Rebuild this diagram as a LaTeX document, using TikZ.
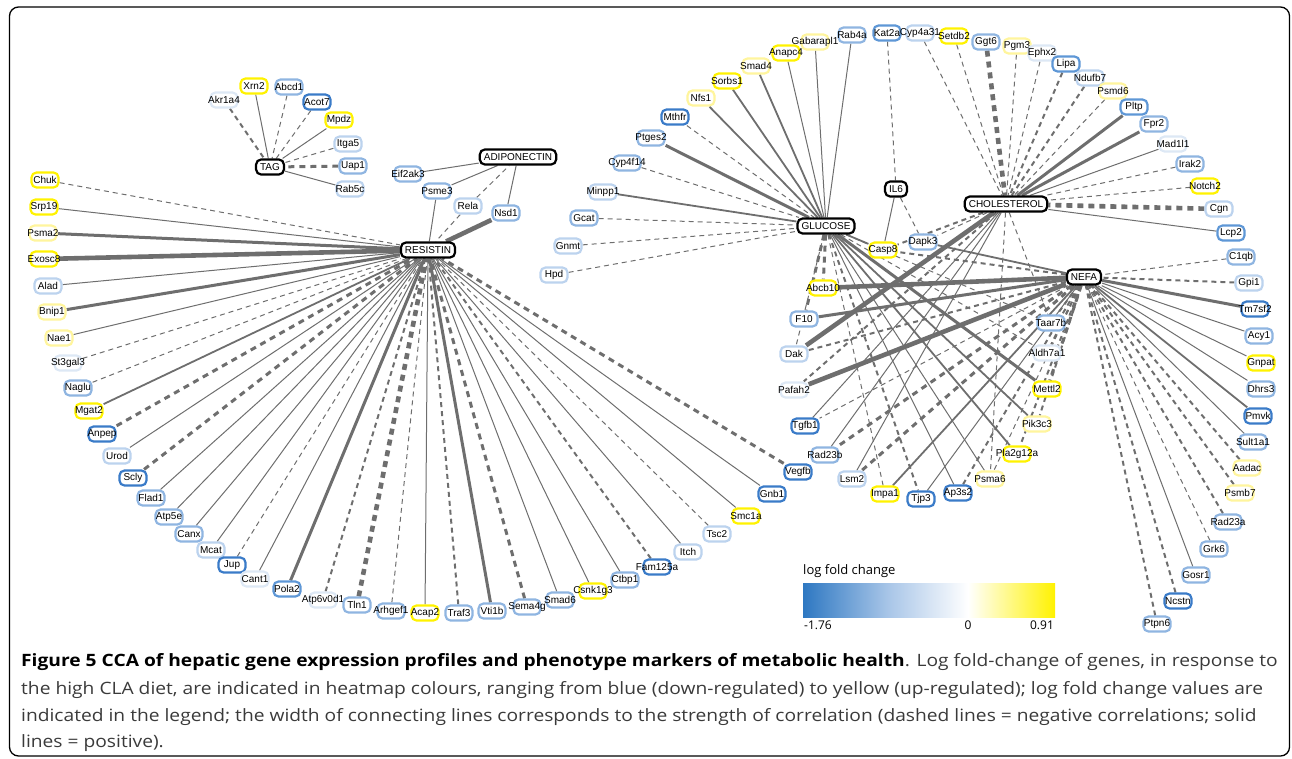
\documentclass[tikz,border=0pt]{standalone}
\usepackage{fontspec}
\newfontfamily\gfont{Liberation Sans}
\newfontfamily\capfont[FakeStretch=1.13]{Open Sans}
\newfontfamily\legfont{Open Sans}
\usetikzlibrary{calc}
\definecolor{yel}{HTML}{FFF200}
\definecolor{lyel}{HTML}{FFF59D}
\definecolor{vlb}{HTML}{DDE8F5}
\definecolor{lb}{HTML}{BCD3EE}
\definecolor{mb}{HTML}{8FB5E1}
\definecolor{bmd}{HTML}{5E97D6}
\definecolor{db}{HTML}{3A7BC8}
\definecolor{ecol}{HTML}{6E6E6E}
\definecolor{lgblue}{HTML}{2E78C2}
\definecolor{lgmid}{HTML}{A9C6E8}
\definecolor{capgray}{HTML}{3A3A3A}
\pgfdeclarehorizontalshading{lfc}{100bp}{color(0bp)=(lgblue); color(25bp)=(lgblue); color(42bp)=(lgmid); color(57.75bp)=(white); color(75bp)=(yel); color(100bp)=(yel)}
\pgfdeclarelayer{bg}
\pgfsetlayers{bg,main}
\newcommand\genebox[4]{\node[gbox,draw=#4] (#1) at (#2,#3) {}; \node[gtxt] at (#1.center) {#1};}
\tikzset{
  gbox/.style={rectangle, rounded corners=5pt, fill=white, line width=2.2pt, minimum width=27pt, minimum height=15pt, inner sep=0pt},
  gtxt/.style={inner sep=0pt, font=\gfont\fontsize{10}{12}\selectfont, text=black},
  hub/.style={rectangle, rounded corners=5pt, fill=white, draw=black, line width=2.2pt, minimum height=15pt, inner xsep=4pt, inner ysep=0pt, font=\gfont\fontsize{10}{12}\selectfont},
  e1/.style={draw=ecol, line width=1pt},
  e2/.style={draw=ecol, line width=1.8pt},
  e3/.style={draw=ecol, line width=3pt},
  e4/.style={draw=ecol, line width=4.6pt},
  d1/.style={draw=ecol, line width=1pt, dash pattern=on 5pt off 4pt},
  d2/.style={draw=ecol, line width=2pt, dash pattern=on 5pt off 4pt},
  d3/.style={draw=ecol, line width=3pt, dash pattern=on 6pt off 5pt},
  d4/.style={draw=ecol, line width=4.6pt, dash pattern=on 6pt off 5pt},
  captxt/.style={inner sep=0pt, anchor=base west, font=\capfont\fontsize{17}{20}\selectfont, text=capgray},
  legt/.style={inner sep=0pt, font=\legfont\fontsize{12}{14}\selectfont, text=black}
}
\begin{document}
\begin{tikzpicture}[x=1pt,y=-1pt]
\useasboundingbox (0,0) rectangle (1292,758);
\draw[line width=1.3pt, rounded corners=9pt] (9.5,7) rectangle (1289.5,756);

% hubs
\node[hub] (TAG) at (270,167) {TAG};
\node[hub] (ADIPONECTIN) at (518,157) {ADIPONECTIN};
\node[hub] (RESISTIN) at (428,250) {RESISTIN};
\node[hub] (GLUCOSE) at (826,226) {GLUCOSE};
\node[hub] (IL6) at (896,189) {IL6};
\node[hub] (CHOLESTEROL) at (1006,204) {CHOLESTEROL};
\node[hub] (NEFA) at (1084,277) {NEFA};

% TAG group
\genebox{Akr1a4}{224}{100}{vlb}
\genebox{Xrn2}{254}{86}{yel}
\genebox{Abcd1}{289}{87}{mb}
\genebox{Acot7}{317}{102}{db}
\genebox{Mpdz}{339}{120}{yel}
\genebox{Itga5}{348}{144}{lb}
\genebox{Uap1}{353}{166}{mb}
\genebox{Rab5c}{350}{189}{lb}
% adiponectin group
\genebox{Eif2ak3}{408}{174}{mb}
\genebox{Psme3}{437}{191}{mb}
\genebox{Rela}{468}{206}{lb}
\genebox{Nsd1}{506}{213}{mb}
% resistin fan
\genebox{Chuk}{45}{180}{yel}
\genebox{Srp19}{44}{207}{yel}
\genebox{Psma2}{43}{233}{lyel}
\genebox{Exosc8}{44}{259}{yel}
\genebox{Alad}{48}{286}{lb}
\genebox{Bnip1}{52}{312}{lyel}
\genebox{Nae1}{59}{338}{lyel}
\genebox{St3gal3}{68}{363}{vlb}
\genebox{Naglu}{78}{388}{mb}
\genebox{Mgat2}{89}{411}{yel}
\genebox{Anpep}{102}{434}{db}
\genebox{Urod}{117}{456}{lb}
\genebox{Scly}{133}{478}{db}
\genebox{Flad1}{151}{498}{mb}
\genebox{Atp5e}{169}{517}{mb}
\genebox{Canx}{189}{534}{mb}
\genebox{Mcat}{211}{550}{lb}
\genebox{Jup}{232}{565}{db}
\genebox{Cant1}{255}{579}{vlb}
\genebox{Pola2}{287}{589}{bmd}
\genebox{Atp6v0d1}{323}{600}{vlb}
\genebox{Tln1}{357}{605}{mb}
\genebox{Arhgef1}{391}{611}{mb}
\genebox{Acap2}{425}{613}{yel}
\genebox{Traf3}{459}{613}{mb}
\genebox{Vti1b}{492}{611}{mb}
\genebox{Sema4g}{527}{607}{mb}
\genebox{Smad6}{560}{600}{mb}
\genebox{Csnk1g3}{593}{591}{yel}
\genebox{Ctbp1}{625}{580}{mb}
\genebox{Fam125a}{657}{567}{db}
\genebox{Itch}{688}{552}{lb}
\genebox{Tsc2}{717}{534}{lb}
\genebox{Smc1a}{746}{516}{yel}
\genebox{Gnb1}{772}{494}{db}
\genebox{Vegfb}{798}{472}{db}
% glucose fan
\genebox{Hpd}{554}{275}{lb}
\genebox{Gnmt}{568}{246}{lb}
\genebox{Gcat}{584}{218}{mb}
\genebox{Minpp1}{603}{192}{lb}
\genebox{Cyp4f14}{627}{163}{mb}
\genebox{Ptges2}{651}{138}{mb}
\genebox{Mthfr}{675}{117}{db}
\genebox{Nfs1}{701}{98}{lyel}
\genebox{Sorbs1}{727}{81}{yel}
\genebox{Smad4}{756}{66}{lyel}
\genebox{Anapc4}{786}{53}{yel}
\genebox{Gabarapl1}{815}{42}{lyel}
\genebox{Rab4a}{852}{35}{mb}
% IL6 / top
\genebox{Kat2a}{887}{33}{bmd}
\genebox{Cyp4a31}{920}{33}{lb}
\genebox{Setdb2}{954}{36}{yel}
% cholesterol fan
\genebox{Ggt6}{986}{42}{mb}
\genebox{Pgm3}{1017}{46}{lyel}
\genebox{Ephx2}{1042}{53}{vlb}
\genebox{Lipa}{1066}{64}{bmd}
\genebox{Ndufb7}{1090}{78}{lb}
\genebox{Psmd6}{1113}{91}{lyel}
\genebox{Pltp}{1134}{107}{bmd}
\genebox{Fpr2}{1154}{124}{mb}
\genebox{Mad1l1}{1173}{144}{vlb}
\genebox{Irak2}{1190}{164}{mb}
\genebox{Notch2}{1205}{186}{yel}
\genebox{Cgn}{1219}{209}{lb}
\genebox{Lcp2}{1231}{233}{bmd}
% nefa fan
\genebox{C1qb}{1241}{257}{mb}
\genebox{Gpi1}{1249}{283}{lb}
\genebox{Tm7sf2}{1255}{309}{db}
\genebox{Acy1}{1259}{336}{mb}
\genebox{Gnpat}{1261}{363}{yel}
\genebox{Dhrs3}{1261}{389}{mb}
\genebox{Pmvk}{1258}{416}{db}
\genebox{Sult1a1}{1253}{442}{mb}
\genebox{Aadac}{1247}{468}{lyel}
\genebox{Psmb7}{1240}{493}{lyel}
\genebox{Rad23a}{1228}{522}{mb}
\genebox{Grk6}{1214}{549}{mb}
\genebox{Gosr1}{1196}{575}{mb}
\genebox{Ncstn}{1178}{601}{db}
\genebox{Ptpn6}{1157}{624}{mb}
% central
\genebox{Casp8}{883}{250}{yel}
\genebox{Dapk3}{923}{242}{mb}
\genebox{Abcb10}{823}{288}{yel}
\genebox{F10}{804}{319}{mb}
\genebox{Dak}{794}{354}{lb}
\genebox{Pafah2}{794}{390}{vlb}
\genebox{Tgfb1}{805}{426}{db}
\genebox{Rad23b}{825}{455}{mb}
\genebox{Lsm2}{852}{479}{lb}
\genebox{Impa1}{885}{494}{yel}
\genebox{Tjp3}{921}{499}{db}
\genebox{Ap3s2}{958}{493}{db}
\genebox{Psma6}{990}{479}{lyel}
\genebox{Pla2g12a}{1017}{454}{yel}
\genebox{Pik3c3}{1037}{424}{lyel}
\genebox{Mettl2}{1047}{389}{yel}
\genebox{Aldh7a1}{1047}{353}{vlb}
\genebox{Taar7b}{1051}{323}{mb}

\begin{pgfonlayer}{bg}
% TAG
\draw[d2] (Akr1a4) -- (TAG);
\draw[e1] (Xrn2) -- (TAG);
\draw[d1] (Abcd1) -- (TAG);
\draw[d1] (Acot7) -- (TAG);
\draw[e1] (Mpdz) -- (TAG);
\draw[d1] (Itga5) -- (TAG);
\draw[d3] (Uap1) -- (TAG);
\draw[e1] (Rab5c) -- (TAG);
% ADIPONECTIN
\draw[e1] (Eif2ak3) -- (ADIPONECTIN);
\draw[e1] (Psme3) -- (ADIPONECTIN);
\draw[d1] (Rela) -- (ADIPONECTIN);
\draw[e1] (Nsd1) -- (ADIPONECTIN);
% RESISTIN
\draw[e1] (Psme3) -- (RESISTIN);
\draw[d1] (Rela) -- (RESISTIN);
\draw[e4] (Nsd1) -- (RESISTIN);
\draw[d1] (Chuk) -- (RESISTIN);
\draw[e1] (Srp19) -- (RESISTIN);
\draw[e3] (Psma2) -- (RESISTIN);
\draw[e4] (Exosc8) -- (RESISTIN);
\draw[e1] (Alad) -- (RESISTIN);
\draw[e3] (Bnip1) -- (RESISTIN);
\draw[e1] (Nae1) -- (RESISTIN);
\draw[d1] (St3gal3) -- (RESISTIN);
\draw[d1] (Naglu) -- (RESISTIN);
\draw[e2] (Mgat2) -- (RESISTIN);
\draw[d3] (Anpep) -- (RESISTIN);
\draw[e1] (Urod) -- (RESISTIN);
\draw[d3] (Scly) -- (RESISTIN);
\draw[e1] (Flad1) -- (RESISTIN);
\draw[e1] (Atp5e) -- (RESISTIN);
\draw[e1] (Canx) -- (RESISTIN);
\draw[e1] (Mcat) -- (RESISTIN);
\draw[d1] (Jup) -- (RESISTIN);
\draw[e1] (Cant1) -- (RESISTIN);
\draw[e3] (Pola2) -- (RESISTIN);
\draw[d2] (Atp6v0d1) -- (RESISTIN);
\draw[d4] (Tln1) -- (RESISTIN);
\draw[d1] (Arhgef1) -- (RESISTIN);
\draw[e1] (Acap2) -- (RESISTIN);
\draw[d2] (Traf3) -- (RESISTIN);
\draw[e3] (Vti1b) -- (RESISTIN);
\draw[d3] (Sema4g) -- (RESISTIN);
\draw[e1] (Smad6) -- (RESISTIN);
\draw[e1] (Csnk1g3) -- (RESISTIN);
\draw[e1] (Ctbp1) -- (RESISTIN);
\draw[d2] (Fam125a) -- (RESISTIN);
\draw[e1] (Itch) -- (RESISTIN);
\draw[d1] (Tsc2) -- (RESISTIN);
\draw[e1] (Smc1a) -- (RESISTIN);
\draw[e1] (Gnb1) -- (RESISTIN);
\draw[d3] (Vegfb) -- (RESISTIN);
% GLUCOSE fan
\draw[d1] (Hpd) -- (GLUCOSE);
\draw[d1] (Gnmt) -- (GLUCOSE);
\draw[d1] (Gcat) -- (GLUCOSE);
\draw[e2] (Minpp1) -- (GLUCOSE);
\draw[d1] (Cyp4f14) -- (GLUCOSE);
\draw[e3] (Ptges2) -- (GLUCOSE);
\draw[d1] (Mthfr) -- (GLUCOSE);
\draw[e2] (Nfs1) -- (GLUCOSE);
\draw[e2] (Sorbs1) -- (GLUCOSE);
\draw[e2] (Smad4) -- (GLUCOSE);
\draw[e1] (Anapc4) -- (GLUCOSE);
\draw[e1] (Gabarapl1) -- (GLUCOSE);
\draw[e1] (Rab4a) -- (GLUCOSE);
% IL6
\draw[d1] (Kat2a) -- (IL6);
\draw[e1] (IL6) -- (Casp8);
\draw[d1] (IL6) -- (Dapk3);
% CHOLESTEROL fan
\draw[d1] (Cyp4a31) -- (CHOLESTEROL);
\draw[d1] (Setdb2) -- (CHOLESTEROL);
\draw[d4] (Ggt6) -- (CHOLESTEROL);
\draw[d1] (Pgm3) -- (CHOLESTEROL);
\draw[d1] (Ephx2) -- (CHOLESTEROL);
\draw[d2] (Lipa) -- (CHOLESTEROL);
\draw[d2] (Ndufb7) -- (CHOLESTEROL);
\draw[d1] (Psmd6) -- (CHOLESTEROL);
\draw[e3] (Pltp) -- (CHOLESTEROL);
\draw[e3] (Fpr2) -- (CHOLESTEROL);
\draw[e1] (Mad1l1) -- (CHOLESTEROL);
\draw[d1] (Irak2) -- (CHOLESTEROL);
\draw[d1] (Notch2) -- (CHOLESTEROL);
\draw[d4] (Cgn) -- (CHOLESTEROL);
\draw[e1] (Lcp2) -- (CHOLESTEROL);
% NEFA fan
\draw[d1] (C1qb) -- (NEFA);
\draw[d2] (Gpi1) -- (NEFA);
\draw[e3] (Tm7sf2) -- (NEFA);
\draw[e1] (Acy1) -- (NEFA);
\draw[e1] (Gnpat) -- (NEFA);
\draw[e1] (Dhrs3) -- (NEFA);
\draw[e2] (Pmvk) -- (NEFA);
\draw[e1] (Sult1a1) -- (NEFA);
\draw[d2] (Aadac) -- (NEFA);
\draw[d2] (Psmb7) -- (NEFA);
\draw[d2] (Rad23a) -- (NEFA);
\draw[d1] (Grk6) -- (NEFA);
\draw[e1] (Gosr1) -- (NEFA);
\draw[d2] (Ncstn) -- (NEFA);
\draw[d2] (Ptpn6) -- (NEFA);
% central: GLUCOSE
\draw[e2] (GLUCOSE) -- (Casp8);
\draw[d3] (GLUCOSE) -- (Abcb10);
\draw[d3] (GLUCOSE) -- (F10);
\draw[d1] (GLUCOSE) -- (Dak);
\draw[e3] (GLUCOSE) -- (Mettl2);
\draw[e2] (GLUCOSE) -- (Pik3c3);
\draw[e2] (GLUCOSE) -- (Pla2g12a);
\draw[e1] (GLUCOSE) -- (Psma6);
\draw[e1] (GLUCOSE) -- (Ap3s2);
\draw[d2] (GLUCOSE) -- (Tjp3);
\draw[d1] (GLUCOSE) -- (Impa1);
\draw[d1] (GLUCOSE) -- (Taar7b);
\draw[d1] (GLUCOSE) -- (Aldh7a1);
% central: CHOLESTEROL
\draw[d2] (CHOLESTEROL) -- (Casp8);
\draw[d1] (CHOLESTEROL) -- (Dapk3);
\draw[e4] (CHOLESTEROL) -- (Dak);
\draw[d2] (CHOLESTEROL) -- (Pafah2);
\draw[e1] (CHOLESTEROL) -- (Tgfb1);
\draw[e1] (CHOLESTEROL) -- (Rad23b);
\draw[e1] (CHOLESTEROL) -- (Lsm2);
\draw[d1] (CHOLESTEROL) -- (Taar7b);
\draw[d1] (CHOLESTEROL) -- (Psma6);
% central: NEFA
\draw[e2] (NEFA) -- (Dapk3);
\draw[d2] (NEFA) -- (Casp8);
\draw[e4] (NEFA) -- (Abcb10);
\draw[e3] (NEFA) -- (F10);
\draw[d2] (NEFA) -- (Dak);
\draw[e4] (NEFA) -- (Pafah2);
\draw[d1] (NEFA) -- (Tgfb1);
\draw[d3] (NEFA) -- (Rad23b);
\draw[d3] (NEFA) -- (Lsm2);
\draw[e2] (NEFA) -- (Impa1);
\draw[e1] (NEFA) -- (Tjp3);
\draw[d2] (NEFA) -- (Ap3s2);
\draw[d1] (NEFA) -- (Psma6);
\draw[d2] (NEFA) -- (Pla2g12a);
\draw[d2] (NEFA) -- (Pik3c3);
\draw[d3] (NEFA) -- (Mettl2);
\draw[d2] (NEFA) -- (Aldh7a1);
\draw[d2] (NEFA) -- (Taar7b);
\end{pgfonlayer}

% legend
\node[legt, anchor=base west, font=\legfont\fontsize{13}{15}\selectfont] (lgtitle) at (803,574) {log fold change};
\shade[shading=lfc] (803,583) rectangle (1055,617);
\node[legt, anchor=base] (lgmin) at (818,629) {-1.76};
\node[legt, anchor=base] (lgzero) at (968,629) {0};
\node[legt, anchor=base] (lgmax) at (1042,629) {0.91};

% caption
\node[captxt] (cap1) at (21,666) {\textcolor{black}{\bfseries Figure 5 CCA of hepatic gene expression profiles and phenotype markers of metabolic health}. Log fold-change of genes, in response to};
\node[captxt] (cap2) at (21,694) {the high CLA diet, are indicated in heatmap colours, ranging from blue (down-regulated) to yellow (up-regulated); log fold change values are};
\node[captxt] (cap3) at (21,721) {indicated in the legend; the width of connecting lines corresponds to the strength of correlation (dashed lines = negative correlations; solid};
\node[captxt] (cap4) at (21,747) {lines = positive).};
\end{tikzpicture}
\end{document}
